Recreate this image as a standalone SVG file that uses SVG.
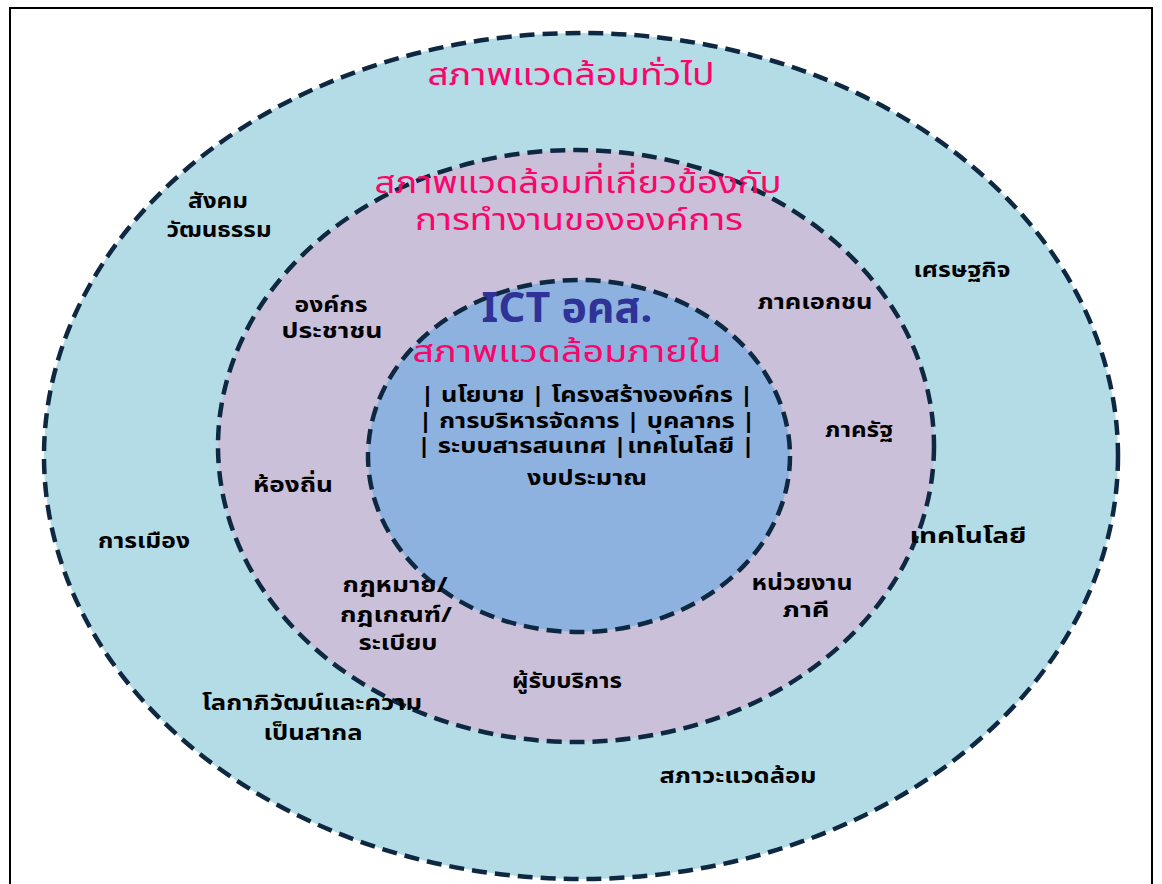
<svg xmlns="http://www.w3.org/2000/svg" width="1162" height="884" viewBox="0 0 1162 884">
<style>
.ring{stroke:#0e2841;stroke-width:4.5;stroke-dasharray:15 8}
text{font-family:"Noto Sans Thai","Tahoma","Noto Sans","DejaVu Sans",sans-serif;text-anchor:middle}
.lbl{font-weight:bold;font-size:22px;fill:#000}
.pink{font-size:30px;fill:#fa0569}
.ict{font-weight:bold;font-size:42px;fill:#2f3296}
</style>
<rect x="0" y="0" width="1162" height="884" fill="#fff"/>
<rect x="10" y="8" width="1142" height="880" fill="#fff" stroke="#000" stroke-width="2"/>
<g id="outer-ring">
<ellipse class="ring" cx="581" cy="456" rx="537" ry="423" fill="#b4dce6"/>
</g>
<g id="middle-ring">
<ellipse class="ring" cx="576" cy="446" rx="358" ry="296" fill="#cbc0da"/>
</g>
<g id="inner-ring">
<ellipse class="ring" cx="579" cy="456" rx="211" ry="176" fill="#8db2e0"/>
</g>
<g id="titles">
<text class="pink" x="571" y="85" textLength="287" lengthAdjust="spacingAndGlyphs">สภาพแวดล้อมทั่วไป</text>
<text class="pink" x="578" y="193" textLength="407" lengthAdjust="spacingAndGlyphs">สภาพแวดล้อมที่เกี่ยวข้องกับ</text>
<text class="pink" x="579" y="230" textLength="328" lengthAdjust="spacingAndGlyphs">การทำงานขององค์การ</text>
<text class="ict" x="567" y="322" textLength="171" lengthAdjust="spacingAndGlyphs">ICT อคส.</text>
<text class="pink" x="567" y="362" textLength="309" lengthAdjust="spacingAndGlyphs">สภาพแวดล้อมภายใน</text>
</g>
<g id="inner-items">
<text class="lbl" x="587" y="402" textLength="333" lengthAdjust="spacingAndGlyphs">| นโยบาย | โครงสร้างองค์กร |</text>
<text class="lbl" x="587" y="428" textLength="337" lengthAdjust="spacingAndGlyphs">| การบริหารจัดการ  | บุคลากร |</text>
<text class="lbl" x="586" y="453" textLength="338" lengthAdjust="spacingAndGlyphs">| ระบบสารสนเทศ |เทคโนโลยี |</text>
<text class="lbl" x="587" y="485" textLength="120" lengthAdjust="spacingAndGlyphs">งบประมาณ</text>
</g>
<g id="task-environment">
<text class="lbl" x="331" y="312" textLength="73" lengthAdjust="spacingAndGlyphs">องค์กร</text>
<text class="lbl" x="332" y="338" textLength="101" lengthAdjust="spacingAndGlyphs">ประชาชน</text>
<text class="lbl" x="815" y="309" textLength="115" lengthAdjust="spacingAndGlyphs">ภาคเอกชน</text>
<text class="lbl" x="859" y="437" textLength="68" lengthAdjust="spacingAndGlyphs">ภาครัฐ</text>
<text class="lbl" x="293" y="492" textLength="80" lengthAdjust="spacingAndGlyphs">ห้องถิ่น</text>
<text class="lbl" x="395" y="592" textLength="105" lengthAdjust="spacingAndGlyphs">กฎหมาย/</text>
<text class="lbl" x="396" y="622" textLength="112" lengthAdjust="spacingAndGlyphs">กฎเกณฑ์/</text>
<text class="lbl" x="398" y="650" textLength="79" lengthAdjust="spacingAndGlyphs">ระเบียบ</text>
<text class="lbl" x="802" y="590" textLength="101" lengthAdjust="spacingAndGlyphs">หน่วยงาน</text>
<text class="lbl" x="806" y="617" textLength="47" lengthAdjust="spacingAndGlyphs">ภาคี</text>
<text class="lbl" x="567" y="688" textLength="110" lengthAdjust="spacingAndGlyphs">ผู้รับบริการ</text>
</g>
<g id="general-environment">
<text class="lbl" x="218" y="208" textLength="60" lengthAdjust="spacingAndGlyphs">สังคม</text>
<text class="lbl" x="219" y="237" textLength="105" lengthAdjust="spacingAndGlyphs">วัฒนธรรม</text>
<text class="lbl" x="962" y="277" textLength="97" lengthAdjust="spacingAndGlyphs">เศรษฐกิจ</text>
<text class="lbl" x="144" y="548" textLength="92" lengthAdjust="spacingAndGlyphs">การเมือง</text>
<text class="lbl" x="968" y="543" textLength="117" lengthAdjust="spacingAndGlyphs">เทคโนโลยี</text>
<text class="lbl" x="312" y="710" textLength="220" lengthAdjust="spacingAndGlyphs">โลกาภิวัฒน์และความ</text>
<text class="lbl" x="313" y="740" textLength="99" lengthAdjust="spacingAndGlyphs">เป็นสากล</text>
<text class="lbl" x="738" y="783" textLength="157" lengthAdjust="spacingAndGlyphs">สภาวะแวดล้อม</text>
</g>
</svg>
